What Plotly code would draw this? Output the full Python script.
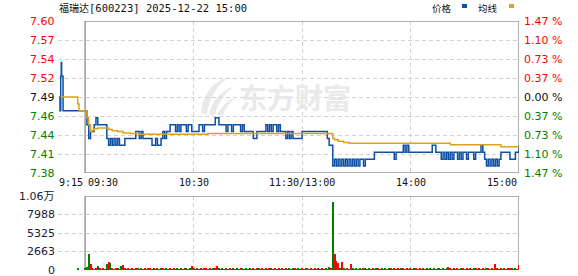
import plotly.graph_objects as go

W, H = 578, 276

# ---------------- data ----------------
title_text = "福瑞达[600223] 2025-12-22 15:00"
prev_close = 7.49

# pre-market (call auction) minute positions (minutes after 9:15) and prices
pre_x = [0.7, 1.1, 1.5, 1.8, 2.0, 2.8]
pre_price = [7.49, 7.47, 7.52, 7.54, 7.52, 7.47]

# regular session, one value per minute, minute index 15 (09:30) .. 255 (15:00)
price = [
    7.47, 7.45, 7.43, 7.44, 7.44, 7.45, 7.46, 7.45, 7.45, 7.45,
    7.45, 7.45, 7.43, 7.42, 7.43, 7.42, 7.43, 7.42, 7.43, 7.42,
    7.42, 7.42, 7.43, 7.43, 7.43, 7.43, 7.43, 7.43, 7.44, 7.44,
    7.43, 7.44, 7.43, 7.43, 7.43, 7.43, 7.43, 7.42, 7.42, 7.43,
    7.42, 7.42, 7.43, 7.44, 7.43, 7.44, 7.44, 7.45, 7.45, 7.45,
    7.44, 7.45, 7.44, 7.45, 7.45, 7.45, 7.44, 7.45, 7.45, 7.44,
    7.44, 7.44, 7.44, 7.45, 7.45, 7.44, 7.45, 7.45, 7.45, 7.45,
    7.45, 7.45, 7.46, 7.46, 7.45, 7.45, 7.45, 7.45, 7.44, 7.45,
    7.45, 7.44, 7.45, 7.45, 7.45, 7.45, 7.44, 7.45, 7.44, 7.44,
    7.44, 7.44, 7.44, 7.43, 7.43, 7.44, 7.44, 7.44, 7.44, 7.44,
    7.45, 7.44, 7.45, 7.44, 7.45, 7.45, 7.44, 7.45, 7.44, 7.44,
    7.44, 7.43, 7.44, 7.43, 7.44, 7.43, 7.43, 7.43, 7.43, 7.43,
    7.44, 7.44, 7.44, 7.44, 7.44, 7.44, 7.44, 7.44, 7.44, 7.44,
    7.44, 7.44, 7.44, 7.44, 7.43, 7.42, 7.42, 7.39, 7.40, 7.39,
    7.40, 7.39, 7.40, 7.39, 7.40, 7.39, 7.40, 7.39, 7.40, 7.39,
    7.40, 7.39, 7.40, 7.40, 7.39, 7.40, 7.40, 7.40, 7.40, 7.40,
    7.41, 7.41, 7.41, 7.41, 7.41, 7.41, 7.41, 7.41, 7.41, 7.41,
    7.41, 7.40, 7.41, 7.41, 7.41, 7.41, 7.42, 7.41, 7.42, 7.41,
    7.41, 7.41, 7.41, 7.41, 7.41, 7.41, 7.41, 7.41, 7.41, 7.41,
    7.41, 7.41, 7.42, 7.42, 7.41, 7.41, 7.41, 7.40, 7.41, 7.40,
    7.41, 7.40, 7.41, 7.40, 7.41, 7.41, 7.40, 7.41, 7.40, 7.41,
    7.41, 7.40, 7.41, 7.41, 7.41, 7.40, 7.41, 7.41, 7.41, 7.42,
    7.41, 7.40, 7.39, 7.40, 7.39, 7.40, 7.39, 7.40, 7.39, 7.40,
    7.41, 7.41, 7.41, 7.41, 7.41, 7.40, 7.40, 7.40, 7.41, 7.41,
    7.42,
]
minutes = list(range(15, 15 + len(price)))

# average price line (minute position, value)
avg_x = [1.5, 10.9, 11.6, 15, 16, 17, 18, 19, 20, 22, 27, 28, 30, 33, 36, 40,
         45, 80, 83, 150, 152, 153, 155, 158, 161, 216, 217, 244, 245, 255]
avg_price = [7.49, 7.48, 7.47, 7.47, 7.46, 7.45, 7.44, 7.442, 7.444, 7.445,
             7.445, 7.443, 7.441, 7.440, 7.438, 7.437, 7.436, 7.436, 7.437,
             7.437, 7.430, 7.428, 7.426, 7.424, 7.423, 7.423, 7.421, 7.421,
             7.418, 7.418]

# volume (shares), one per minute 15..255, plus the auction bar
auction_x = [11]
auction_vol = [340]
volume = [
    150, 430, 2300, 860, 150, 140, 160, 580, 150, 140,
    150, 140, 860, 1150, 1000, 150, 140, 150, 160, 140,
    530, 720, 150, 140, 150, 130, 150, 140, 290, 150,
    140, 150, 130, 150, 140, 150, 160, 140, 150, 130,
    150, 140, 150, 160, 140, 150, 130, 150, 140, 150,
    140, 150, 130, 150, 140, 160, 150, 140, 150, 580,
    150, 140, 150, 130, 150, 140, 150, 340, 140, 150,
    140, 150, 160, 620, 150, 140, 150, 130, 150, 140,
    150, 140, 150, 130, 150, 140, 150, 160, 140, 150,
    140, 150, 130, 150, 140, 150, 160, 140, 150, 130,
    150, 140, 150, 160, 140, 150, 130, 150, 140, 150,
    140, 150, 130, 150, 140, 150, 160, 140, 150, 130,
    150, 140, 150, 160, 140, 150, 130, 150, 140, 150,
    140, 150, 130, 150, 140, 430, 150, 9800, 2300, 1300,
    1000, 290, 1150, 150, 140, 150, 130, 860, 150, 140,
    150, 130, 150, 140, 150, 160, 140, 150, 130, 150,
    140, 150, 160, 140, 150, 130, 150, 140, 150, 160,
    140, 150, 130, 150, 140, 150, 160, 140, 150, 130,
    150, 140, 150, 160, 140, 150, 130, 150, 140, 150,
    140, 150, 130, 150, 140, 150, 160, 140, 150, 130,
    150, 430, 150, 140, 150, 130, 150, 140, 160, 150,
    140, 150, 130, 150, 140, 150, 160, 140, 150, 130,
    150, 140, 290, 150, 140, 150, 130, 860, 150, 140,
    150, 130, 150, 140, 150, 160, 290, 140, 150, 130,
    720,
]
volume_dir = (
    "gggrrrrgrr" "rrgrgrgrgr" "grrgrgrgrg" "rgrrgrrgrr" "grgrrgrrgr"
    "rgrgrrgrgr" "grrgrgrrgr" "rgrrgrgrrg" "rrgrgrrgrg" "rgrrgrgrrg"
    "rgrgrrgrgr" "grrgrgrrgr" "rgrgrrgrgr" "grrgrgrgrr" "rgrgrrgrgr"
    "grgrrgrgrr" "rgrrgrgrgr" "grgrrgrgrg" "rrgrgrrgrg" "rgrgrrgrgr"
    "grrgrgrrgr" "grgrrgrgrr" "rggrgrgrrg" "rgrgrrgrgr" "r"
)

# axis ticks / labels
price_grid = [7.60, 7.5725, 7.545, 7.5175, 7.49, 7.4625, 7.435, 7.4075, 7.38]
price_labels = ["7.60", "7.57", "7.54", "7.52", "7.49", "7.46", "7.44", "7.41", "7.38"]
pct_labels = ["1.47 %", "1.10 %", "0.73 %", "0.37 %", "0.00 %", "0.37 %", "0.73 %", "1.10 %", "1.47 %"]
vol_grid = [10650, 7988, 5325, 2663, 0]
vol_labels = ["1.06万", "7988", "5325", "2663", "0"]
time_pos = [0, 15, 75, 135, 195, 255]
time_labels = ["9:15", "09:30", "10:30", "11:30/13:00", "14:00", "15:00"]
grid_x = [0, 75, 135, 195]

# ---------------- style ----------------
BLUE = "#0d4fa3"
GOLD = "#dba21f"
RED = "#ff0000"
GREEN = "#007f00"
GRID = "#d2d2d2"
BOX = "#999999"
NUM_FONT = "DejaVu Sans"
MONO = "DejaVu Sans Mono, Noto Sans CJK SC"

X0, X1 = 58, 519          # plot area horizontal pixel span
MY0, MY1 = 21, 173        # main panel top/bottom
VY0, VY1 = 196, 270       # volume panel top/bottom

def fx(p):
    return p / W

def fy(p):
    return 1 - p / H

fig = go.Figure()

fig.add_trace(go.Scatter(
    x=pre_x + minutes, y=pre_price + price, mode="lines",
    line=dict(color=BLUE, width=1.5, shape="hv"),
    xaxis="x", yaxis="y", hoverinfo="skip", showlegend=False))
fig.add_trace(go.Scatter(
    x=avg_x, y=avg_price, mode="lines",
    line=dict(color=GOLD, width=1.5, shape="hv"),
    xaxis="x", yaxis="y", hoverinfo="skip", showlegend=False))

colors = [RED if c == "r" else GREEN for c in volume_dir]
fig.add_trace(go.Bar(
    x=auction_x + minutes, y=auction_vol + volume,
    marker=dict(color=[GREEN] + colors, line=dict(width=0)),
    width=0.6, xaxis="x2", yaxis="y2", hoverinfo="skip", showlegend=False))

grid_common = dict(showgrid=True, gridcolor=GRID, gridwidth=1, griddash="4px,3px",
                   zeroline=False, showline=False, ticks="", showticklabels=False)

fig.update_layout(
    width=W, height=H, margin=dict(l=0, r=0, t=0, b=0),
    paper_bgcolor="white", plot_bgcolor="white", bargap=0,
    xaxis=dict(domain=[fx(X0), fx(X1)], range=[0, 255], tickvals=grid_x,
               anchor="y", **grid_common),
    yaxis=dict(domain=[fy(MY1), fy(MY0)], range=[7.38, 7.60], tickvals=price_grid,
               anchor="x", **grid_common),
    xaxis2=dict(domain=[fx(X0), fx(X1)], range=[0, 255], tickvals=grid_x,
                anchor="y2", **grid_common),
    yaxis2=dict(domain=[fy(VY1), fy(VY0)], range=[0, 10650], tickvals=vol_grid,
                anchor="x2", **grid_common),
)

shapes = [
    dict(type="rect", xref="x", yref="y", x0=15, x1=255, y0=7.38, y1=7.60,
         line=dict(color=BOX, width=1.5), layer="between"),
    dict(type="rect", xref="x2", yref="y2", x0=15, x1=255, y0=0, y1=10650,
         line=dict(color=BOX, width=1.5), layer="between"),
    # legend swatches
    dict(type="rect", xref="paper", yref="paper", x0=fx(462), x1=fx(467),
         y0=fy(8), y1=fy(4), fillcolor=BLUE, line=dict(width=0)),
    dict(type="rect", xref="paper", yref="paper", x0=fx(509), x1=fx(514),
         y0=fy(8), y1=fy(4), fillcolor=GOLD, line=dict(width=0)),
]

# watermark logo (decorative)
def ppath(pts):
    s = ""
    for cmd, coords in pts:
        s += cmd + " " + " ".join(f"{fx(a):.5f},{fy(b):.5f}" for a, b in coords) + " "
    return s + "Z"

for blade in [
    [("M", [(201, 113)]), ("Q", [(203, 86), (228, 77)]), ("Q", [(210, 92), (207, 114)])],
    [("M", [(209, 115)]), ("Q", [(213, 94), (234, 86)]), ("Q", [(218, 99), (215, 115)])],
    [("M", [(217, 115)]), ("Q", [(222, 103), (236, 97)]), ("Q", [(226, 106), (223, 115)])],
]:
    shapes.append(dict(type="path", xref="paper", yref="paper", path=ppath(blade),
                       fillcolor="#e9e9e9", line=dict(width=0), layer="below"))

fig.update_layout(shapes=shapes)

ann = []
ann.append(dict(text="东方财富", xref="paper", yref="paper", x=fx(295), y=fy(97),
                xanchor="center", yanchor="middle", showarrow=False,
                font=dict(family="Noto Sans CJK SC", size=28, color="#e9e9e9", weight="bold")))

ann.append(dict(text='<span style="font-size:10px">福瑞达</span>[600223] 2025-12-22 15:00',
                xref="paper", yref="paper", x=fx(57), y=fy(8), xanchor="left",
                yanchor="middle", showarrow=False,
                font=dict(family=MONO, size=10.5, color="#111111")))
ann.append(dict(text="价格", xref="paper", yref="paper", x=fx(430), y=fy(8),
                xanchor="left", yanchor="middle", showarrow=False,
                font=dict(family="Noto Sans CJK SC", size=9.5, color="#111111")))
ann.append(dict(text="均线", xref="paper", yref="paper", x=fx(476), y=fy(8),
                xanchor="left", yanchor="middle", showarrow=False,
                font=dict(family="Noto Sans CJK SC", size=9.5, color="#111111")))

for v, lab in zip(price_grid, price_labels):
    col = RED if v > prev_close + 1e-9 else (GREEN if v < prev_close - 1e-9 else "#111111")
    ann.append(dict(text=lab, xref="paper", yref="y", x=fx(57), y=v, xanchor="right",
                    yanchor="middle", showarrow=False,
                    font=dict(family=NUM_FONT, size=11, color=col)))
for v, lab in zip(price_grid, pct_labels):
    col = RED if v > prev_close + 1e-9 else (GREEN if v < prev_close - 1e-9 else "#111111")
    ann.append(dict(text=lab, xref="paper", yref="y", x=fx(522), y=v, xanchor="left",
                    yanchor="middle", showarrow=False,
                    font=dict(family=NUM_FONT, size=11, color=col)))
for v, lab in zip(vol_grid, vol_labels):
    ann.append(dict(text=lab, xref="paper", yref="y2", x=fx(57), y=v, xanchor="right",
                    yanchor="middle", showarrow=False,
                    font=dict(family=NUM_FONT + ", Noto Sans CJK SC", size=11, color="#1a1a2e")))

for i, (t, lab) in enumerate(zip(time_pos, time_labels)):
    anchor = "left" if i == 0 else ("right" if i == len(time_pos) - 1 else "center")
    xoff = {0: -1, 1: 1}.get(i, 0)
    if i == 1:
        anchor = "left"
    ann.append(dict(text=lab, xref="x", yref="paper", x=t, y=fy(183), xanchor=anchor,
                    xshift=xoff, yanchor="middle", showarrow=False,
                    font=dict(family=MONO, size=10, color="#111111")))

fig.update_layout(annotations=ann)
fig.write_html("out.html")
